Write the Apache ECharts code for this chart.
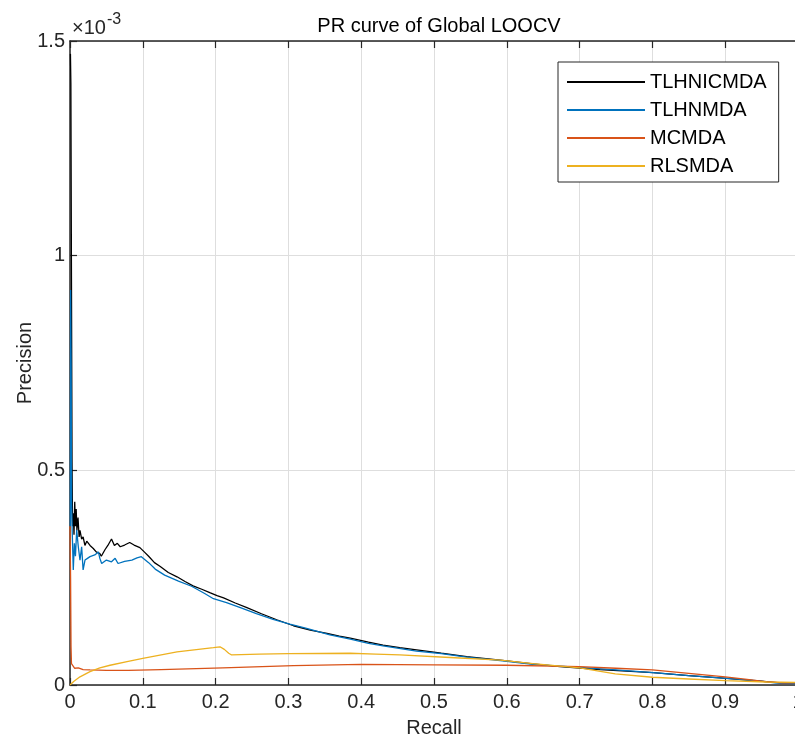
<!DOCTYPE html>
<html>
<head>
<meta charset="utf-8">
<script src="https://cdn.jsdelivr.net/npm/echarts@6/dist/echarts.min.js"></script>
<style>
  html, body { margin: 0; padding: 0; background: #fff; }
  #myChart { width: 795px; height: 738px; }
</style>
</head>
<body>
<div id="myChart"></div>
<script>
  // recall, precision (x 1e-3)
  let tlhnicmda = [
    [0.0006, 1.47], [0.0012, 1.40], [0.002, 0.95], [0.0028, 0.52], [0.0035, 0.37],
    [0.0045, 0.40], [0.0055, 0.35], [0.0065, 0.427], [0.0075, 0.37], [0.0085, 0.41],
    [0.0095, 0.36], [0.011, 0.39], [0.0125, 0.345], [0.0137, 0.36], [0.016, 0.34],
    [0.018, 0.345], [0.0205, 0.325], [0.023, 0.335], [0.0275, 0.325], [0.032, 0.318],
    [0.036, 0.31], [0.041, 0.306], [0.043, 0.30], [0.048, 0.315], [0.052, 0.325],
    [0.057, 0.34], [0.061, 0.325], [0.065, 0.33], [0.069, 0.322], [0.075, 0.326],
    [0.082, 0.332], [0.088, 0.326], [0.096, 0.32], [0.102, 0.31], [0.108, 0.30],
    [0.116, 0.285], [0.124, 0.276], [0.135, 0.262], [0.147, 0.252], [0.158, 0.241],
    [0.169, 0.231], [0.181, 0.223], [0.192, 0.215], [0.202, 0.208], [0.211, 0.203],
    [0.227, 0.191], [0.243, 0.18], [0.263, 0.166], [0.284, 0.152], [0.307, 0.138],
    [0.33, 0.128], [0.353, 0.12], [0.37, 0.114], [0.385, 0.109], [0.41, 0.10],
    [0.43, 0.093], [0.453, 0.087], [0.476, 0.082], [0.51, 0.074], [0.545, 0.066],
    [0.591, 0.058], [0.636, 0.049], [0.673, 0.043], [0.728, 0.036], [0.801, 0.029],
    [0.85, 0.022], [0.902, 0.0156], [0.935, 0.011], [0.957, 0.008], [0.975, 0.005],
    [1.0, 0.004]
  ];

  let tlhnmda = [
    [0.0004, 0.37], [0.0008, 0.92], [0.0015, 0.75], [0.0022, 0.42], [0.003, 0.36],
    [0.0045, 0.268], [0.006, 0.33], [0.0075, 0.30], [0.0092, 0.361], [0.0114, 0.322],
    [0.0137, 0.291], [0.016, 0.322], [0.018, 0.268], [0.0206, 0.291], [0.024, 0.295],
    [0.0275, 0.299], [0.034, 0.303], [0.039, 0.31], [0.041, 0.295], [0.0435, 0.283],
    [0.05, 0.291], [0.057, 0.287], [0.062, 0.295], [0.066, 0.283], [0.075, 0.288],
    [0.085, 0.291], [0.092, 0.296], [0.098, 0.299], [0.108, 0.285], [0.117, 0.27],
    [0.13, 0.256], [0.149, 0.242], [0.167, 0.23], [0.185, 0.213], [0.197, 0.201],
    [0.215, 0.192], [0.234, 0.18], [0.256, 0.166], [0.279, 0.153], [0.302, 0.142],
    [0.325, 0.132], [0.357, 0.117], [0.385, 0.107], [0.41, 0.097], [0.43, 0.091],
    [0.476, 0.079], [0.51, 0.073], [0.545, 0.065], [0.591, 0.057], [0.636, 0.048],
    [0.70, 0.041], [0.75, 0.035], [0.801, 0.029], [0.85, 0.022], [0.902, 0.0156],
    [0.943, 0.010], [0.968, 0.005], [1.0, 0.003]
  ];

  let mcmda = [
    [0, 0.37], [0.0008, 0.25], [0.0014, 0.09], [0.002, 0.05], [0.004, 0.046],
    [0.0065, 0.039], [0.009, 0.038], [0.0115, 0.04], [0.0137, 0.038], [0.018, 0.036],
    [0.0275, 0.035], [0.05, 0.034], [0.08, 0.034], [0.125, 0.036], [0.21, 0.04],
    [0.307, 0.045], [0.40, 0.048], [0.50, 0.047], [0.60, 0.046], [0.70, 0.043],
    [0.75, 0.039], [0.80, 0.035], [0.85, 0.027], [0.90, 0.019], [0.93, 0.013],
    [0.955, 0.008], [0.98, 0.005], [1.0, 0.005]
  ];

  let rlsmda = [
    [0, 0], [0.005, 0.008], [0.0137, 0.019], [0.0275, 0.031], [0.041, 0.04],
    [0.055, 0.046], [0.08, 0.055], [0.10, 0.062], [0.147, 0.077], [0.197, 0.087],
    [0.206, 0.089], [0.212, 0.083], [0.218, 0.074], [0.222, 0.07], [0.26, 0.072],
    [0.30, 0.073], [0.385, 0.074], [0.42, 0.072], [0.453, 0.07], [0.522, 0.064],
    [0.591, 0.058], [0.636, 0.05], [0.70, 0.04], [0.749, 0.026], [0.80, 0.018],
    [0.85, 0.014], [0.90, 0.010], [0.957, 0.007], [1.0, 0.006]
  ];

  let seriesNames = ['TLHNICMDA', 'TLHNMDA', 'MCMDA', 'RLSMDA'];
  let seriesColors = ['#000000', '#0072BD', '#D95319', '#EDB120'];
  let seriesData = [tlhnicmda, tlhnmda, mcmda, rlsmda];

  let font = "'Liberation Sans', Arial, Helvetica, sans-serif";
  let axisColor = '#262626';

  let myChart = echarts.init(document.getElementById('myChart'));
  myChart.setOption({
    animation: false,
    backgroundColor: '#fff',
    textStyle: { fontFamily: font },
    title: {
      text: 'PR curve of Global LOOCV',
      left: 434,
      top: 11,
      textAlign: 'center',
      textStyle: { fontSize: 20, fontWeight: 'normal', color: '#000', fontFamily: font }
    },
    grid: { left: 70, top: 41, right: -3, bottom: 53, containLabel: false, outerBoundsMode: 'none' },
    legend: {
      orient: 'vertical',
      left: 558,
      top: 62,
      itemWidth: 78,
      itemHeight: 14,
      itemGap: 8,
      padding: [10, 12, 6, 8],
      backgroundColor: '#fff',
      borderColor: axisColor,
      borderWidth: 1,
      borderRadius: 0,
      itemStyle: { opacity: 0 },
      textStyle: { fontSize: 20, color: '#000', fontFamily: font },
      data: seriesNames
    },
    graphic: [{
      type: 'text',
      left: 72,
      top: 12,
      style: {
        text: '{a|×10}{b|-3}',
        rich: {
          a: { fontSize: 20, fill: axisColor, fontFamily: font, verticalAlign: 'bottom' },
          b: { fontSize: 16, fill: axisColor, fontFamily: font, verticalAlign: 'top', padding: [0, 0, 10, 1] }
        }
      }
    }],
    xAxis: [{
      type: 'value',
      min: 0,
      max: 1,
      interval: 0.1,
      name: 'Recall',
      nameLocation: 'middle',
      nameGap: 33,
      nameMoveOverlap: false,
      nameTextStyle: { fontSize: 20, color: axisColor, fontFamily: font },
      axisLine: { show: true, onZero: false, lineStyle: { color: axisColor, width: 1.5 } },
      axisTick: { show: true, inside: true, length: 7, lineStyle: { color: axisColor, width: 1.2 } },
      axisLabel: {
        fontSize: 20, color: axisColor, margin: 7, fontFamily: font,
        formatter: function (v) { return String(+v.toFixed(1)); }
      },
      splitLine: { show: true, lineStyle: { color: '#dedede', width: 1 } }
    }, {
      type: 'value',
      position: 'top',
      min: 0,
      max: 1,
      interval: 0.1,
      axisLine: { show: true, onZero: false, lineStyle: { color: axisColor, width: 1.5 } },
      axisTick: { show: true, inside: true, length: 7, lineStyle: { color: axisColor, width: 1.2 } },
      axisLabel: { show: false },
      splitLine: { show: false }
    }],
    yAxis: [{
      type: 'value',
      min: 0,
      max: 1.5,
      interval: 0.5,
      name: 'Precision',
      nameLocation: 'middle',
      nameGap: 35,
      nameMoveOverlap: false,
      nameTextStyle: { fontSize: 20, color: axisColor, fontFamily: font },
      axisLine: { show: true, onZero: false, lineStyle: { color: axisColor, width: 1.5 } },
      axisTick: { show: true, inside: true, length: 7, lineStyle: { color: axisColor, width: 1.2 } },
      axisLabel: {
        fontSize: 20, color: axisColor, margin: 5, fontFamily: font,
        formatter: function (v) { return String(+v.toFixed(1)); }
      },
      splitLine: { show: true, lineStyle: { color: '#dedede', width: 1 } }
    }],
    series: seriesNames.map(function (name, i) {
      return {
        name: name,
        type: 'line',
        symbol: 'none',
        showSymbol: false,
        clip: true,
        itemStyle: { color: seriesColors[i] },
        lineStyle: { color: seriesColors[i], width: 1.3 },
        data: seriesData[i]
      };
    })
  });
</script>
</body>
</html>
